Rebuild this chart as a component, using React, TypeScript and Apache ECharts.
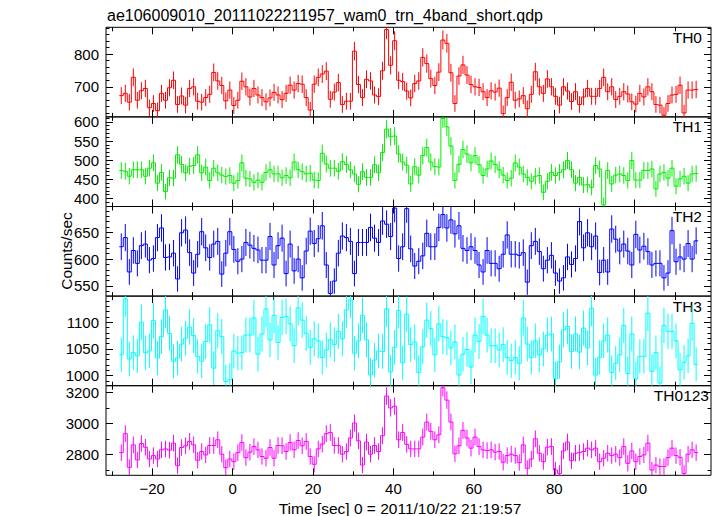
import React, { useEffect, useRef } from "react";
import * as echarts from "echarts";

const TITLE = "ae106009010_20111022211957_wam0_trn_4band_short.qdp";
const X_LABEL = "Time [sec] 0 = 2011/10/22 21:19:57";
const Y_LABEL = "Counts/sec";
const BIN_START = -27.7;
const BIN_WIDTH = 1;
const X_MIN = -31.5;
const X_MAX = 119;
const X_MAJOR = [-20, 0, 20, 40, 60, 80, 100];
const X_MINOR = [-30, -10, 10, 30, 50, 70, 90, 110];

const th0 = [
  673, 680, 653, 729, 659, 688, 695, 636, 649, 627, 680, 659, 697, 720, 646, 672, 644, 695, 700, 656,
  653, 667, 677, 744, 718, 704, 657, 690, 643, 659, 717, 700, 669, 695, 675, 667, 654, 666, 683, 675,
  661, 680, 705, 690, 710, 708, 667, 629, 708, 729, 739, 748, 662, 684, 713, 646, 656, 656, 809, 707,
  667, 723, 718, 675, 670, 749, 875, 766, 841, 720, 716, 687,
  666, 710, 718, 790, 771, 725, 704, 745, 843, 833, 743, 649, 733, 767, 736, 707, 700, 698, 685, 667,
  688, 684, 696, 618, 667, 714, 659, 663, 673, 633, 677, 746, 700, 680, 724, 700, 671, 644, 700, 687,
  655, 685, 646, 669, 695, 671, 671, 695, 729, 685, 700, 661, 671, 685, 678, 654, 647, 680, 669, 700,
  685, 646, 644, 613, 649, 675, 677, 705, 620, 690, 690, 692,
];

const th1 = [
  473, 471, 458, 475, 475, 475, 458, 479, 493, 440, 468, 418, 454, 453, 514, 489, 467, 484, 486, 514,
  467, 482, 447, 479, 467, 461, 457, 460, 440, 447, 493, 453, 451, 442, 448, 442, 468, 475, 464, 464,
  454, 460, 454, 495, 475, 470, 464, 466, 448, 447, 518, 490, 479, 479, 471, 496, 489, 475, 464, 437,
  470, 455, 455, 488, 467, 520, 581, 561, 563, 516, 495, 487,
  438, 483, 461, 512, 533, 495, 483, 482, 609, 587, 537, 447, 489, 528, 516, 493, 512, 488, 460, 477,
  498, 489, 475, 461, 447, 453, 493, 482, 464, 455, 445, 458, 460, 416, 445, 468, 460, 468, 475, 499,
  475, 440, 455, 435, 436, 429, 486, 477, 383, 473, 438, 461, 464, 460, 447, 499, 448, 448, 473, 473,
  477, 425, 464, 468, 453, 479, 432, 451, 458, 440, 464, 465,
];

const th2 = [
  623, 640, 576, 616, 592, 625, 628, 598, 601, 640, 658, 603, 604, 611, 563, 649, 654, 612, 574, 609,
  651, 621, 603, 628, 633, 572, 611, 651, 618, 596, 600, 631, 626, 620, 617, 598, 598, 642, 589, 625,
  639, 573, 628, 578, 600, 565, 615, 652, 629, 638, 662, 589, 536, 559, 611, 643, 640, 633, 573, 631,
  631, 631, 659, 639, 631, 671, 665, 642, 695, 601, 623, 694,
  619, 587, 596, 606, 648, 623, 623, 659, 683, 658, 673, 647, 662, 620, 616, 623, 616, 589, 576, 616,
  592, 592, 582, 609, 645, 609, 609, 607, 612, 557, 625, 633, 614, 582, 598, 607, 574, 559, 565, 604,
  590, 601, 670, 621, 649, 623, 643, 575, 598, 576, 656, 637, 615, 628, 615, 589, 646, 617, 624, 614,
  589, 592, 592, 565, 574, 653, 595, 604, 600, 629, 600, 634,
];

const th3 = [
  1039, 1144, 1031, 1043, 1037, 1100, 1043, 1046, 1103, 1033, 1073, 1123, 1079, 1027, 1033, 1059, 1070, 1091, 1075, 1036,
  1027, 1064, 1095, 1014, 1084, 1073, 989, 992, 1046, 1042, 1043, 1076, 1076, 1108, 1040, 1078, 1125, 1067, 1113, 1062,
  1109, 1111, 1097, 1056, 1127, 1104, 1079, 1053, 1069, 1065, 1034, 1048, 1067, 1058, 1083, 1069, 1123, 1142, 1042, 1065,
  1113, 1067, 1001, 1029, 1046, 1045, 1125, 1007, 1053, 1122, 1024, 1115,
  1058, 1063, 1006, 1054, 1104, 1088, 1039, 1097, 1073, 1071, 1052, 1063, 1001, 1040, 1049, 1016, 1076, 1064, 1111, 1076,
  1056, 1056, 1048, 1058, 1034, 1028, 1034, 1023, 1108, 1059, 1034, 1065, 1039, 1050, 1076, 1078, 994, 1026, 1086, 1092,
  1045, 1078, 1044, 1089, 1052, 1126, 1001, 1034, 1065, 1076, 1006, 1023, 1039, 1094, 1004, 1078, 994, 1036, 1036, 1117,
  1008, 1043, 986, 1094, 1083, 1083, 1065, 1011, 1025, 1037, 1098, 1021,
];

const th0123 = [
  2812, 2934, 2717, 2862, 2765, 2871, 2847, 2771, 2793, 2771, 2830, 2836, 2828, 2873, 2728, 2845, 2856, 2884, 2862, 2763,
  2819, 2797, 2858, 2858, 2895, 2802, 2715, 2771, 2754, 2812, 2877, 2780, 2815, 2851, 2830, 2787, 2776, 2845, 2776, 2858,
  2856, 2819, 2877, 2830, 2890, 2856, 2884, 2787, 2737, 2836, 2867, 2934, 2942, 2858, 2858, 2802, 2819, 2906, 3003, 2888,
  2732, 2880, 2802, 2858, 2819, 2921, 3176, 3100, 3111, 2895, 2942, 2865,
  2836, 2836, 2836, 2912, 3009, 2949, 2895, 2927, 3230, 3150, 3009, 2804, 2856, 2955, 2906, 2841, 2912, 2851, 2830, 2825,
  2830, 2815, 2819, 2750, 2793, 2802, 2793, 2748, 2862, 2711, 2771, 2901, 2808, 2754, 2847, 2851, 2700, 2678, 2823, 2880,
  2760, 2808, 2812, 2819, 2841, 2830, 2841, 2754, 2776, 2808, 2793, 2802, 2780, 2851, 2743, 2823, 2754, 2787, 2797, 2873,
  2700, 2732, 2722, 2722, 2780, 2841, 2793, 2782, 2678, 2802, 2830, 2812,
];

const PANEL_NAMES = ["TH0", "TH1", "TH2", "TH3", "TH0123"];
const PANEL_DATA = [th0, th1, th2, th3, th0123];
const PANEL_COLORS = ["#ff0000", "#00ee00", "#0000ff", "#00ffff", "#ff00ff"];
const Y_RANGES = [
  [608, 882],
  [379, 613],
  [531, 698],
  [981, 1149],
  [2666, 3243],
];
const Y_MAJOR = [
  [700, 800],
  [400, 450, 500, 550, 600],
  [550, 600, 650],
  [1000, 1050, 1100],
  [2800, 3000, 3200],
];
const Y_MINOR_STEP = [20, 10, 10, 10, 100];

const FONT = "'Liberation Sans', Arial, Helvetica, sans-serif";
const GRID_LEFT = 106;
const GRID_W = 605;
const GRID_TOP = 27.3;
const GRID_H = 89.6;

function minorTicks(min: number, max: number, step: number, major: number[]) {
  const out: number[] = [];
  const start = Math.ceil(min / step) * step;
  for (let v = start; v <= max + 1e-9; v += step) {
    const r = Math.round(v * 1000) / 1000;
    if (!major.includes(r)) out.push(r);
  }
  return out;
}

export default function App() {
  const ref = useRef<HTMLDivElement>(null);
  useEffect(() => {
    if (!ref.current) return;
    const chart = echarts.init(ref.current, null, { renderer: "svg" });
    const grids: any[] = [];
    const xAxes: any[] = [];
    const yAxes: any[] = [];
    const series: any[] = [];
    const graphics: any[] = [];
    const last = PANEL_NAMES.length - 1;

    PANEL_NAMES.forEach((name, k) => {
      const top = GRID_TOP + k * GRID_H;
      const [ymin, ymax] = Y_RANGES[k];
      const color = PANEL_COLORS[k];
      grids.push({
        left: GRID_LEFT,
        top,
        width: GRID_W,
        height: GRID_H,
        show: true,
        borderColor: "#000",
        borderWidth: 1,
        backgroundColor: "transparent",
      });
      const yMinor = minorTicks(ymin, ymax, Y_MINOR_STEP[k], Y_MAJOR[k]);
      ["bottom", "top"].forEach((pos) => {
        [true, false].forEach((isMajor) => {
          const vals = isMajor ? X_MAJOR : X_MINOR;
          xAxes.push({
            type: "value",
            gridIndex: k,
            position: pos,
            min: X_MIN,
            max: X_MAX,
            axisLine: { show: false, onZero: false },
            splitLine: { show: false },
            axisTick: {
              show: true,
              inside: true,
              length: isMajor ? 7 : 4,
              customValues: vals,
              lineStyle: { color: "#000", width: 1 },
            },
            axisLabel: {
              show: k === last && pos === "bottom" && isMajor,
              customValues: vals,
              margin: 6,
              color: "#000",
              fontSize: 15,
              fontFamily: FONT,
              formatter: (v: number) => String(v).replace("-", "\u2212"),
            },
          });
        });
      });
      ["left", "right"].forEach((pos) => {
        [true, false].forEach((isMajor) => {
          const vals = isMajor ? Y_MAJOR[k] : yMinor;
          yAxes.push({
            type: "value",
            gridIndex: k,
            position: pos,
            min: ymin,
            max: ymax,
            axisLine: { show: false, onZero: false },
            splitLine: { show: false },
            axisTick: {
              show: true,
              inside: true,
              length: isMajor ? 7 : 3.5,
              customValues: vals,
              lineStyle: { color: "#000", width: 1 },
            },
            axisLabel: {
              show: pos === "left" && isMajor,
              customValues: vals,
              margin: 7,
              color: "#000",
              fontSize: 15,
              fontFamily: FONT,
              formatter: (v: number) => String(v),
            },
          });
        });
      });

      const values = PANEL_DATA[k];
      const data = values.map((v, i) => [
        BIN_START + i * BIN_WIDTH,
        v,
        Math.sqrt(v),
        i > 0 ? values[i - 1] : v,
      ]);
      series.push({
        type: "custom",
        xAxisIndex: 4 * k,
        yAxisIndex: 4 * k,
        clip: true,
        silent: true,
        data,
        renderItem: (params: any, api: any) => {
          const t = api.value(0);
          const v = api.value(1);
          const e = api.value(2);
          const pv = api.value(3);
          const half = BIN_WIDTH / 2;
          const a = api.coord([t - half, pv]);
          const b = api.coord([t - half, v]);
          const c = api.coord([t + half, v]);
          const hi = api.coord([t, v + e]);
          const lo = api.coord([t, v - e]);
          return {
            type: "group",
            children: [
              {
                type: "line",
                shape: { x1: hi[0], y1: hi[1], x2: lo[0], y2: lo[1] },
                style: { stroke: color, lineWidth: 1 },
              },
              {
                type: "polyline",
                shape: { points: [a, b, c] },
                style: { stroke: color, fill: "none", lineWidth: 1 },
              },
            ],
          };
        },
      });

      graphics.push({
        type: "text",
        x: k === last ? 709 : 702,
        y: top + 2,
        style: {
          text: name,
          fill: "#000",
          font: `15.5px ${FONT}`,
          align: "right",
          verticalAlign: "top",
        },
      });
    });

    graphics.push({
      type: "text",
      x: 107,
      y: 7,
      style: { text: TITLE, fill: "#000", font: `16px ${FONT}`, align: "left", verticalAlign: "top" },
    });
    graphics.push({
      type: "text",
      x: 400,
      y: 508,
      style: { text: X_LABEL, fill: "#000", font: `15.5px ${FONT}`, align: "center", verticalAlign: "middle" },
    });
    graphics.push({
      type: "text",
      x: 66,
      y: 251,
      rotation: Math.PI / 2,
      style: { text: Y_LABEL, fill: "#000", font: `15.5px ${FONT}`, align: "center", verticalAlign: "middle" },
    });

    chart.setOption({
      animation: false,
      backgroundColor: "#fff",
      grid: grids,
      xAxis: xAxes,
      yAxis: yAxes,
      series,
      graphic: graphics,
    });
    return () => chart.dispose();
  }, []);
  return (
    <div
      ref={ref}
      style={{ position: "absolute", left: 0, top: 0, width: 717, height: 516 }}
    />
  );
}
